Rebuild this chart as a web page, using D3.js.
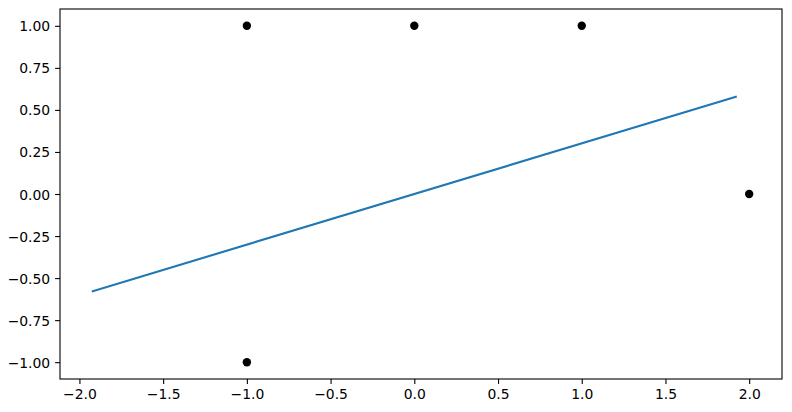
<!DOCTYPE html>
<meta charset="utf-8">
<style>
    body {
        margin: 0;
        background: #fff;
    }

    .axis text {
        font-family: "DejaVu Sans", sans-serif;
        font-size: 13.9px;
        fill: #000;
    }

    .axis line {
        stroke: #000;
        stroke-width: 1.1px;
    }
</style>

<body>
    <script src="https://d3js.org/d3.v7.min.js"></script>
    <script>

        // scatter points
        var pointsX = [-1, 0, 1, 2, -1];
        var pointsY = [1, 1, 1, 0, -1];

        // fitted line, two end points
        var lineX = [-1.92, 1.92];
        var lineY = [-0.578, 0.578];

        var xTicks = [-2.0, -1.5, -1.0, -0.5, 0.0, 0.5, 1.0, 1.5, 2.0];
        var yTicks = [-1.00, -0.75, -0.50, -0.25, 0.00, 0.25, 0.50, 0.75, 1.00];

        var margin = { top: 9, right: 10, bottom: 33, left: 60 },
            width = 792 - margin.left - margin.right,
            height = 412 - margin.top - margin.bottom;

        var points = pointsX.map((x, i) => ({ x: x, y: pointsY[i] }));
        var fit = lineX.map((x, i) => ({ x: x, y: lineY[i] }));

        // matplotlib style 5% padding around the data
        function padded(vals) {
            var e = d3.extent(vals), p = (e[1] - e[0]) * 0.05;
            return [e[0] - p, e[1] + p];
        }

        var x = d3.scaleLinear()
            .domain(padded(pointsX.concat(lineX)))
            .range([0, width]);

        var y = d3.scaleLinear()
            .domain(padded(pointsY.concat(lineY)))
            .range([height, 0]);

        var svg = d3.select("body").append("svg")
            .attr("width", 792)
            .attr("height", 412)
            .append("g")
            .attr("transform", "translate(" + margin.left + "," + margin.top + ")");

        var xAxis = d3.axisBottom(x)
            .tickValues(xTicks)
            .tickFormat(d3.format(".1f"))
            .tickSize(4.9)
            .tickPadding(4.9);

        var yAxis = d3.axisLeft(y)
            .tickValues(yTicks)
            .tickFormat(d3.format(".2f"))
            .tickSize(4.9)
            .tickPadding(4.9);

        var gx = svg.append("g")
            .attr("class", "x axis")
            .attr("transform", "translate(0," + height + ")")
            .call(xAxis);
        gx.select(".domain").remove();

        var gy = svg.append("g")
            .attr("class", "y axis")
            .call(yAxis);
        gy.select(".domain").remove();
        gy.selectAll("text").attr("dy", "0.36em");

        var line = d3.line()
            .x(d => x(d.x))
            .y(d => y(d.y));

        svg.append("path")
            .datum(fit)
            .attr("d", line)
            .attr("fill", "none")
            .attr("stroke", "#1f77b4")
            .attr("stroke-width", 2.1)
            .attr("stroke-linecap", "square");

        svg.selectAll(".dot")
            .data(points)
            .enter().append("circle")
            .attr("class", "dot")
            .attr("cx", d => x(d.x))
            .attr("cy", d => y(d.y))
            .attr("r", 4.2)
            .attr("fill", "#000");

        // spines
        svg.append("rect")
            .attr("width", width)
            .attr("height", height)
            .attr("fill", "none")
            .attr("stroke", "#000")
            .attr("stroke-width", 1.1);

    </script>
</body>
